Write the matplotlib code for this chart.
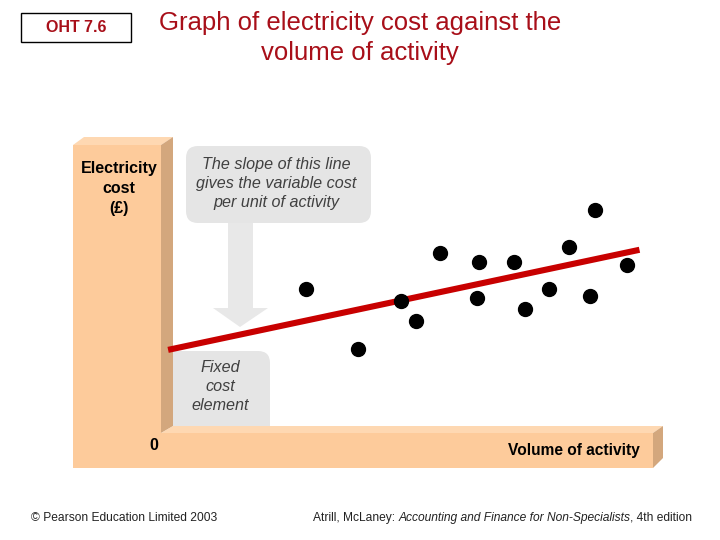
import matplotlib.pyplot as plt
from matplotlib.patches import Polygon, FancyBboxPatch, Rectangle

plt.rcParams['font.family'] = ['Liberation Sans', 'DejaVu Sans']

# observations: volume of activity vs electricity cost (arbitrary units)
volume = [27.1, 37.8, 46.5, 49.6, 54.5, 62.4, 62.0, 69.6, 71.8, 76.8, 80.9, 85.1, 86.2, 92.7]
cost = [47.4, 26.6, 43.4, 36.4, 60.0, 56.9, 44.2, 56.9, 40.5, 47.3, 62.0, 45.1, 74.7, 55.7]

# fitted line: fixed cost + variable cost per unit
fixed_cost = 26.7
variable_cost = 0.36
line_volume = [-1.0, 95.2]

title = "Graph of electricity cost against the\nvolume of activity"
y_label = ["Electricity", "cost", "(£)"]
x_label = "Volume of activity"
slope_note = ["The slope of this line", "gives the variable cost", "per unit of activity"]
fixed_note = ["Fixed", "cost", "element"]

FRONT = "#fdcb9b"
SIDE = "#d3a77d"
TOP = "#fed8b2"
GREY = "#e5e5e5"
DARKRED = "#a80f19"

fig = plt.figure(figsize=(7.2, 5.4), dpi=100)
bg = fig.add_axes([0, 0, 1, 1])
bg.set_xlim(0, 720)
bg.set_ylim(540, 0)
bg.axis("off")

# header
bg.add_patch(Rectangle((21, 13), 110, 29, fill=False, lw=1, ec="black"))
bg.text(76, 28, "OHT 7.6", ha="center", va="center", fontsize=11.5, fontweight="bold",
        color=DARKRED)
bg.text(360, 38, title, ha="center", va="center", fontsize=18.5, color=DARKRED,
        linespacing=1.32)

# callout boxes (behind the bars)
bg.add_patch(FancyBboxPatch((198, 158), 161, 53, boxstyle="round,pad=12", fc=GREY,
                            ec="none", zorder=1))
bg.add_patch(FancyBboxPatch((160, 363), 98, 90, boxstyle="round,pad=12", fc=GREY,
                            ec="none", zorder=1))
bg.add_patch(Polygon([(228, 223), (253, 223), (253, 308), (268, 308), (240, 327),
                      (213, 308), (228, 308)], closed=True, fc="#e8e8e8", ec="none",
                     zorder=1))
for i, s in enumerate(slope_note):
    bg.text(276, 164 + i * 19.3, s, ha="center", va="center", fontsize=11.6,
            style="italic", color="#404040", zorder=2)
for i, s in enumerate(fixed_note):
    bg.text(220, 367 + i * 19.5, s, ha="center", va="center", fontsize=11.6,
            style="italic", color="#404040", zorder=2)

# 3D axis bars
bars = [
    ([(73, 145), (161, 145), (161, 433), (653, 433), (653, 468), (73, 468)], FRONT),
    ([(73, 145), (84, 137), (173, 137), (161, 145)], TOP),
    ([(161, 145), (173, 137), (173, 426), (161, 433)], SIDE),
    ([(161, 433), (173, 426), (663, 426), (653, 433)], TOP),
    ([(653, 433), (663, 426), (663, 458), (653, 468)], SIDE),
]
for pts, c in bars:
    bg.add_patch(Polygon(pts, closed=True, fc=c, ec="none", zorder=3))

for i, s in enumerate(y_label):
    bg.text(119, 169 + i * 19.5, s, ha="center", va="center", fontsize=11.5,
            fontweight="bold", zorder=4)
bg.text(154, 445, "0", ha="center", va="center", fontsize=11.5, fontweight="bold", zorder=4)
bg.text(574, 450, x_label, ha="center", va="center", fontsize=11.2, fontweight="bold",
        zorder=4)

# footer
bg.text(31, 518, "© Pearson Education Limited 2003", ha="left", va="center",
        fontsize=8.65, color="#222222")
t = bg.text(313, 518, "Atrill, McLaney: ", ha="left", va="center", fontsize=8.65,
            color="#222222")
t = bg.annotate("Accounting and Finance for Non-Specialists", xy=(1, 0), xycoords=t,
                va="bottom", fontsize=8.65, style="italic", color="#222222")
bg.annotate(", 4th edition", xy=(1, 0), xycoords=t, va="bottom", fontsize=8.65,
            color="#222222")

# data area
ax = fig.add_axes([173 / 720, 114 / 540, 490 / 720, 289 / 540])
ax.set_xlim(0, 100)
ax.set_ylim(0, 100)
ax.axis("off")
ax.patch.set_alpha(0)
line_cost = [fixed_cost + variable_cost * v for v in line_volume]
ax.plot(line_volume, line_cost, color="#c80000", lw=4.4, solid_capstyle="butt",
        clip_on=False, zorder=2)
ax.scatter(volume, cost, s=100, color="black", zorder=3, clip_on=False)

fig.savefig("out.png", dpi=100)
